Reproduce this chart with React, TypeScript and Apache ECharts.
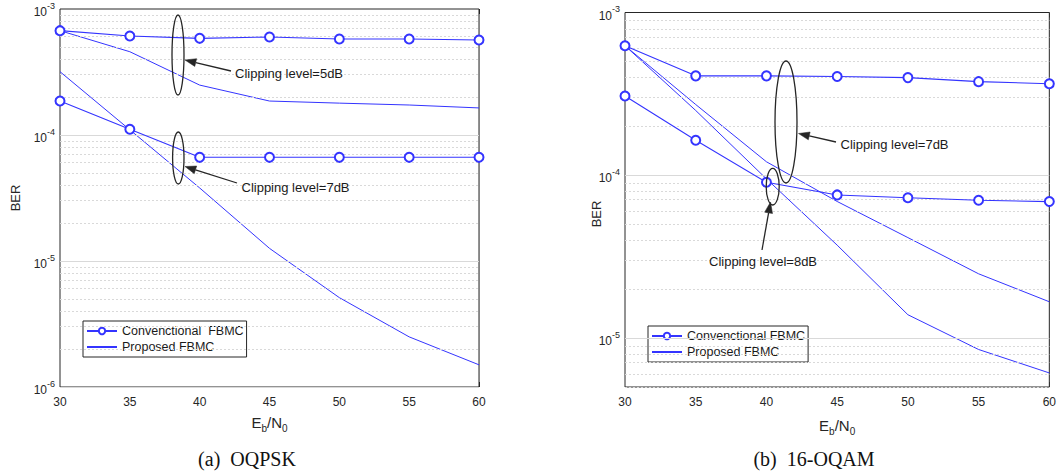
import React, { useEffect, useRef } from "react";
import * as echarts from "echarts";

const FONT = '"Liberation Sans", Arial, Helvetica, sans-serif';
const SERIF = '"Liberation Serif", "Times New Roman", serif';
const BLUE = "#3434ff";
const DARK = "#262626";

// Eb/N0 (dB)
const ebn0 = [30, 35, 40, 45, 50, 55, 60];

// (a) OQPSK
const oqpskConv5 = [6.73e-4, 6.11e-4, 5.85e-4, 6.0e-4, 5.78e-4, 5.78e-4, 5.67e-4];
const oqpskProp5 = [6.73e-4, 4.58e-4, 2.49e-4, 1.86e-4, 1.79e-4, 1.73e-4, 1.64e-4];
const oqpskConv7 = [1.86e-4, 1.11e-4, 6.65e-5, 6.65e-5, 6.65e-5, 6.65e-5, 6.65e-5];
const oqpskProp7 = [3.18e-4, 1.1e-4, 3.8e-5, 1.26e-5, 5.12e-6, 2.5e-6, 1.5e-6];

// (b) 16-OQAM
const oqamConv7 = [6.25e-4, 4.08e-4, 4.08e-4, 4.04e-4, 3.98e-4, 3.76e-4, 3.65e-4];
const oqamConv8 = [3.07e-4, 1.64e-4, 9.05e-5, 7.57e-5, 7.28e-5, 7.02e-5, 6.89e-5];
const oqamProp7 = [6.25e-4, 2.72e-4, 1.21e-4, 6.9e-5, 4.14e-5, 2.48e-5, 1.67e-5];
const oqamProp8 = [6.25e-4, 2.5e-4, 9.5e-5, 3.72e-5, 1.39e-5, 8.5e-6, 6.1e-6];

// axis ranges (BER)
const leftYMin = 1e-6;
const leftYMax = 1e-3;
const rightYMin = 5e-6;
const rightYMax = 1e-3;

const legendLeftNames = ["Convenctional  FBMC", "Proposed FBMC"];
const legendRightNames = ["Convenctional FBMC", "Proposed FBMC "];

const toPairs = (vals: number[]) => vals.map((v, i) => [ebn0[i], Math.log10(v)]);

function gridLines(minV: number, maxV: number) {
  const lo = Math.log10(minV);
  const hi = Math.log10(maxV);
  const items: any[] = [];
  for (let e = Math.floor(lo); e < Math.ceil(hi); e++) {
    for (let k = 1; k <= 9; k++) {
      const v = Math.log10(k) + e;
      if (v < lo - 1e-9 || v > hi + 1e-9) continue;
      if (k === 1) {
        items.push({ yAxis: v, lineStyle: { color: "#d9d9d9", type: "solid", width: 1 } });
      } else {
        items.push({ yAxis: v, lineStyle: { color: "#d9d9d9", type: [2, 2], width: 1 } });
      }
    }
  }
  return items;
}

function arrow(x1: number, y1: number, x2: number, y2: number) {
  const ang = Math.atan2(y2 - y1, x2 - x1);
  const L = 11;
  const W = 4;
  const bx = x2 - L * Math.cos(ang);
  const by = y2 - L * Math.sin(ang);
  const px = -Math.sin(ang) * W;
  const py = Math.cos(ang) * W;
  return [
    {
      type: "line",
      shape: { x1, y1, x2: bx, y2: by },
      style: { stroke: DARK, lineWidth: 1.3 },
      z: 100,
    },
    {
      type: "polygon",
      shape: { points: [[x2, y2], [bx + px, by + py], [bx - px, by - py]] },
      style: { fill: DARK, stroke: DARK, lineWidth: 0.5 },
      z: 100,
    },
  ];
}

function ellipse(cx: number, cy: number, rx: number, ry: number) {
  return {
    type: "ellipse",
    shape: { cx, cy, rx, ry },
    style: { fill: "none", stroke: DARK, lineWidth: 1.3 },
    z: 100,
  };
}

function label(text: string, x: number, y: number) {
  return {
    type: "text",
    x,
    y,
    z: 100,
    style: {
      text,
      fontSize: 13,
      fontFamily: FONT,
      fill: "#1a1a1a",
      textAlign: "left",
      textVerticalAlign: "middle",
    },
  };
}

const yLabel = {
  color: "#262626",
  fontFamily: FONT,
  margin: 5,
  formatter: (v: number) =>
    Math.abs(v - Math.round(v)) < 1e-6 ? `{b|10}{s|${Math.round(v)}}` : "",
  rich: {
    b: { fontSize: 12, fontFamily: FONT, color: "#262626", padding: [6, 0, 0, 0] },
    s: { fontSize: 9, fontFamily: FONT, color: "#262626", padding: [0, 0, 7, 0] },
  },
};

const xName = "{n|E}{s|b}{n|/N}{s|0}";
const xNameStyle = {
  rich: {
    n: { fontSize: 15, fontFamily: FONT, color: "#262626" },
    s: { fontSize: 10, fontFamily: FONT, color: "#262626", padding: [12, 0, 0, 0] },
  },
};

function makeX(gridIndex: number, gap: number) {
  return [
    {
      type: "value",
      gridIndex,
      min: 30,
      max: 60,
      interval: 5,
      position: "bottom",
      name: xName,
      nameLocation: "middle",
      nameGap: gap,
      nameTextStyle: xNameStyle,
      axisLine: { show: false },
      axisTick: { show: true, inside: true, length: 5, lineStyle: { color: DARK } },
      axisLabel: { color: "#262626", fontSize: 12, fontFamily: FONT, margin: 9 },
      splitLine: { show: true, lineStyle: { color: "#e2e2e2", width: 1 } },
    },
    {
      type: "value",
      gridIndex,
      min: 30,
      max: 60,
      interval: 5,
      position: "top",
      axisLine: { show: false },
      axisTick: { show: true, inside: true, length: 5, lineStyle: { color: DARK } },
      axisLabel: { show: false },
      splitLine: { show: false },
    },
  ];
}

function makeY(gridIndex: number, minV: number, maxV: number, useInterval: boolean) {
  const base: any = {
    type: "value",
    gridIndex,
    min: Math.log10(minV),
    max: Math.log10(maxV),
    axisLine: { show: false },
    splitLine: { show: false },
  };
  if (useInterval) base.interval = 1;
  return [
    {
      ...base,
      position: "left",
      axisTick: { show: useInterval, inside: true, length: 5, lineStyle: { color: DARK } },
      axisLabel: yLabel,
    },
    {
      ...base,
      position: "right",
      axisTick: { show: useInterval, inside: true, length: 5, lineStyle: { color: DARK } },
      axisLabel: { show: false },
    },
  ];
}

function convSeries(name: string, vals: number[], axisIdx: number) {
  return {
    type: "line",
    name,
    xAxisIndex: axisIdx,
    yAxisIndex: axisIdx,
    data: toPairs(vals),
    symbol: "emptyCircle",
    symbolSize: 9,
    showSymbol: true,
    lineStyle: { color: BLUE, width: 1.1 },
    itemStyle: { color: BLUE, borderColor: BLUE, borderWidth: 1.1 },
    z: 5,
  };
}

function propSeries(name: string, vals: number[], axisIdx: number) {
  return {
    type: "line",
    name,
    xAxisIndex: axisIdx,
    yAxisIndex: axisIdx,
    data: toPairs(vals),
    symbol: "none",
    showSymbol: false,
    lineStyle: { color: BLUE, width: 1 },
    itemStyle: { color: BLUE },
    z: 4,
  };
}

function gridSeries(axisIdx: number, minV: number, maxV: number) {
  return {
    type: "line",
    xAxisIndex: axisIdx,
    yAxisIndex: axisIdx,
    data: [],
    silent: true,
    z: 1,
    markLine: {
      silent: true,
      symbol: ["none", "none"],
      label: { show: false },
      animation: false,
      data: gridLines(minV, maxV),
    },
  };
}

function makeLegend(names: string[], left: number, top: number) {
  return {
    orient: "vertical",
    left,
    top,
    data: [
      { name: names[0] },
      { name: names[1], itemStyle: { opacity: 0, borderWidth: 0 } },
    ],
    selectedMode: false,
    backgroundColor: "#ffffff",
    borderColor: DARK,
    borderWidth: 1,
    borderRadius: 0,
    padding: [3, 3, 3, 3],
    itemGap: 2,
    itemWidth: 30,
    itemHeight: 8,
    textStyle: { fontSize: 12.5, fontFamily: FONT, color: "#1a1a1a", lineHeight: 14 },
  };
}

export default function App() {
  const ref = useRef<HTMLDivElement>(null);

  useEffect(() => {
    if (!ref.current) return;
    const chart = echarts.init(ref.current, undefined, { renderer: "svg" });
    const option: any = {
      animation: false,
      backgroundColor: "#ffffff",
      grid: [
        { left: 60, top: 9, width: 419, height: 378, show: true, borderColor: DARK, borderWidth: 1, backgroundColor: "#fff", z: 3 },
        { left: 625, top: 12.5, width: 426, height: 374.5, show: true, borderColor: DARK, borderWidth: 1, backgroundColor: "#fff", z: 3 },
      ],
      xAxis: [...makeX(0, 24), ...makeX(1, 27)],
      yAxis: [...makeY(0, leftYMin, leftYMax, true), ...makeY(1, rightYMin, rightYMax, false)],
      legend: [makeLegend(legendLeftNames, 83, 321), makeLegend(legendRightNames, 648, 326)],
      series: [
        gridSeries(0, leftYMin, leftYMax),
        convSeries(legendLeftNames[0], oqpskConv5, 0),
        propSeries(legendLeftNames[1], oqpskProp5, 0),
        convSeries(legendLeftNames[0], oqpskConv7, 0),
        propSeries(legendLeftNames[1], oqpskProp7, 0),
        gridSeries(2, rightYMin, rightYMax),
        convSeries(legendRightNames[0], oqamConv7, 2),
        propSeries(legendRightNames[1], oqamProp7, 2),
        convSeries(legendRightNames[0], oqamConv8, 2),
        propSeries(legendRightNames[1], oqamProp8, 2),
      ],
      graphic: [
        // y axis names
        {
          type: "text",
          x: 15,
          y: 198,
          rotation: Math.PI / 2,
          style: { text: "BER", fontSize: 13, fontFamily: FONT, fill: "#262626", textAlign: "center", textVerticalAlign: "middle" },
        },
        {
          type: "text",
          x: 596,
          y: 214,
          rotation: Math.PI / 2,
          style: { text: "BER", fontSize: 13, fontFamily: FONT, fill: "#262626", textAlign: "center", textVerticalAlign: "middle" },
        },
        // captions
        {
          type: "text",
          x: 247,
          y: 459,
          style: { text: "(a)  OQPSK", fontSize: 20, fontFamily: SERIF, fill: "#111", textAlign: "center", textVerticalAlign: "middle" },
        },
        {
          type: "text",
          x: 814,
          y: 459,
          style: { text: "(b)  16-OQAM", fontSize: 20, fontFamily: SERIF, fill: "#111", textAlign: "center", textVerticalAlign: "middle" },
        },
        // annotations (a)
        ellipse(178, 55, 6, 40),
        ...arrow(231, 71, 185, 60),
        label("Clipping level=5dB", 235, 73),
        ellipse(178.3, 158, 5.7, 26),
        ...arrow(237, 183, 185, 166.5),
        label("Clipping level=7dB", 241.5, 187),
        // annotations (b)
        ellipse(786, 122, 11, 61),
        ...arrow(836, 142, 798.5, 133.5),
        label("Clipping level=7dB", 840.5, 144),
        ellipse(772.7, 186.7, 6.5, 18.3),
        ...arrow(762, 250, 770.5, 202),
        label("Clipping level=8dB", 709, 261),
      ],
    };
    chart.setOption(option);
    return () => chart.dispose();
  }, []);

  return (
    <div
      ref={ref}
      style={{ position: "absolute", left: 0, top: 0, width: 1059, height: 476, background: "#fff" }}
    />
  );
}
